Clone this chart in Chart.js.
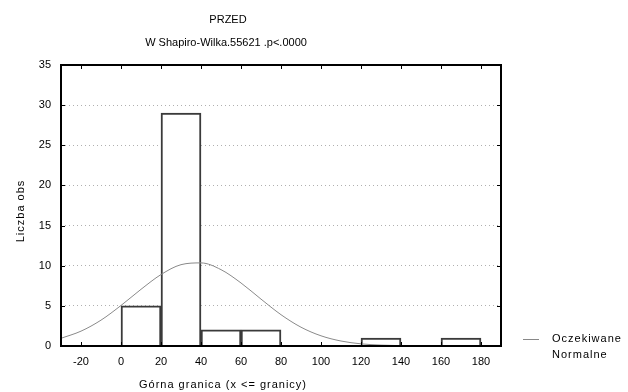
<!DOCTYPE html>
<html>
<head>
<meta charset="utf-8">
<script src="https://cdn.jsdelivr.net/npm/chart.js@4/dist/chart.umd.min.js"></script>
<style>
html,body{margin:0;padding:0;background:#fff;}
#wrap{width:628px;height:392px;position:relative;}
</style>
</head>
<body>
<div id="wrap"><canvas id="c" width="628" height="392"></canvas></div>
<script>
// ---- data ----
const titleText = "PRZED";
const subtitleText = "W Shapiro-Wilka.55621 .p<.0000";
const xAxisTitle = "Górna granica (x <= granicy)";
const yAxisTitle = "Liczba obs";
const legendLines = ["Oczekiwane", "Normalne"];

const binStart = [0, 20, 40, 60, 80, 100, 120, 140, 160];
const binEnd   = [20, 40, 60, 80, 100, 120, 140, 160, 180];
const counts   = [5, 29, 2, 2, null, null, 1, null, 1];

const curveX = [-30, -20, -10, 0, 10, 20, 30, 40, 50, 60, 70, 80, 90, 100, 110, 120, 130, 140, 150, 160, 170, 180, 190];
const curveY = [0.96, 1.85, 3.22, 5.05, 7.06, 8.9, 10.13, 10.35, 9.51, 7.85, 5.84, 3.90, 2.34, 1.27, 0.62, 0.27, 0.11, 0.04, 0.01, 0, 0, 0, 0];

const xTicks = [-20, 0, 20, 40, 60, 80, 100, 120, 140, 160, 180];
const yTicks = [0, 5, 10, 15, 20, 25, 30, 35];
const xMin = -30, xMax = 190, yMin = 0, yMax = 35;

// ---- build ----
const barData = binStart.map((s, i) => ({x: (s + binEnd[i]) / 2, y: counts[i]}));
const curveData = curveX.map((x, i) => ({x: x, y: curveY[i]}));
const FONT = "Liberation Sans";

const decor = {
  id: 'decor',
  afterDraw(chart) {
    const ctx = chart.ctx;
    const a = chart.chartArea;
    const xs = chart.scales.x, ys = chart.scales.y;
    ctx.save();
    // inside tick marks
    ctx.strokeStyle = '#000';
    ctx.lineWidth = 1;
    ctx.beginPath();
    xTicks.forEach(v => {
      const px = Math.round(xs.getPixelForValue(v)) + 0.5;
      ctx.moveTo(px, a.bottom); ctx.lineTo(px, a.bottom - 4);
      ctx.moveTo(px, a.top); ctx.lineTo(px, a.top + 4);
    });
    yTicks.forEach(v => {
      const py = Math.round(ys.getPixelForValue(v)) + 0.5;
      ctx.moveTo(a.left, py); ctx.lineTo(a.left + 4, py);
      ctx.moveTo(a.right, py); ctx.lineTo(a.right - 4, py);
    });
    ctx.stroke();
    // frame
    ctx.lineWidth = 2;
    ctx.strokeRect(a.left, a.top, a.right - a.left, a.bottom - a.top);
    // titles
    ctx.fillStyle = '#000';
    ctx.font = "11px '" + FONT + "'";
    ctx.textAlign = 'center';
    ctx.textBaseline = 'middle';
    ctx.fillText(titleText, 228, 20);
    ctx.fillText(subtitleText, 226, 43);
    // axis titles (spaced)
    ctx.letterSpacing = '1px';
    ctx.fillText(xAxisTitle, 223, 385);
    ctx.save();
    ctx.translate(21, 211);
    ctx.rotate(-Math.PI / 2);
    ctx.fillText(yAxisTitle, 0, 0);
    ctx.restore();
    // legend
    ctx.strokeStyle = '#888';
    ctx.lineWidth = 1;
    ctx.beginPath();
    ctx.moveTo(523, 339.5); ctx.lineTo(539, 339.5);
    ctx.stroke();
    ctx.textAlign = 'left';
    ctx.fillText(legendLines[0], 552, 339);
    ctx.fillText(legendLines[1], 552, 355);
    ctx.restore();
  }
};

new Chart(document.getElementById('c'), {
  type: 'bar',
  data: {
    datasets: [
      {
        type: 'bar',
        label: 'Liczba obs',
        data: barData,
        backgroundColor: '#ffffff',
        borderColor: '#3a3a3a',
        borderWidth: 2,
        borderSkipped: 'start',
        barPercentage: 1,
        categoryPercentage: 1,
        order: 2
      },
      {
        type: 'line',
        label: legendLines.join(' '),
        data: curveData,
        borderColor: '#8a8a8a',
        borderWidth: 1,
        pointRadius: 0,
        cubicInterpolationMode: 'monotone',
        fill: false,
        order: 1
      }
    ]
  },
  options: {
    responsive: false,
    animation: false,
    layout: {padding: {left: 0, right: 127, top: 65, bottom: 0}},
    plugins: {legend: {display: false}, tooltip: {enabled: false}, title: {display: false}},
    scales: {
      x: {
        type: 'linear',
        min: xMin, max: xMax,
        offset: false,
        grid: {display: false, drawTicks: false},
        border: {display: false},
        afterBuildTicks: s => { s.ticks = xTicks.map(v => ({value: v})); },
        afterFit: s => { s.height = 46; },
        ticks: {color: '#000', padding: 9, maxRotation: 0, autoSkip: false, font: {family: FONT, size: 11}},
        title: {display: false}
      },
      y: {
        type: 'linear',
        min: yMin, max: yMax,
        grid: {
          drawTicks: false,
          color: ctx => (ctx.tick && (ctx.tick.value === yMin || ctx.tick.value === yMax)) ? 'rgba(0,0,0,0)' : '#b0b0b0',
          lineWidth: 1
        },
        border: {display: false, dash: [1, 3]},
        afterBuildTicks: s => { s.ticks = yTicks.map(v => ({value: v})); },
        afterFit: s => { s.width = 61; },
        ticks: {color: '#000', padding: 10, font: {family: FONT, size: 11}},
        title: {display: false}
      }
    }
  },
  plugins: [decor]
});
</script>
</body>
</html>
